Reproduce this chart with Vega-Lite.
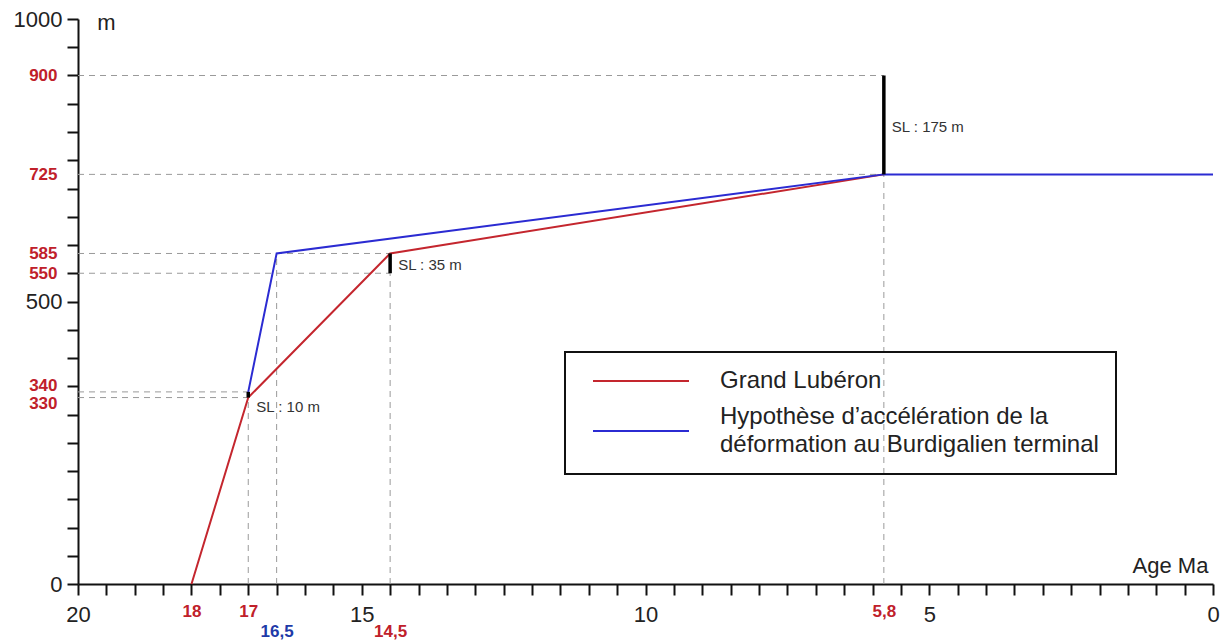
{
  "$schema": "https://vega.github.io/schema/vega-lite/v6.json",
  "width": 1135,
  "height": 565,
  "autosize": {"type": "none"},
  "padding": {"left": 78, "top": 19, "right": 16, "bottom": 59},
  "background": "white",
  "config": {
    "view": {"stroke": null},
    "font": "Liberation Sans"
  },
  "datasets": {
    "dashes": [
      {"x": 20, "x2": 5.8, "y": 900, "y2": 900},
      {"x": 20, "x2": 5.8, "y": 725, "y2": 725},
      {"x": 20, "x2": 14.5, "y": 585, "y2": 585},
      {"x": 20, "x2": 14.5, "y": 550, "y2": 550},
      {"x": 20, "x2": 17, "y": 340, "y2": 340},
      {"x": 20, "x2": 17, "y": 330, "y2": 330},
      {"x": 17, "x2": 17, "y": 0, "y2": 330},
      {"x": 16.5, "x2": 16.5, "y": 0, "y2": 585},
      {"x": 14.5, "x2": 14.5, "y": 0, "y2": 550},
      {"x": 5.8, "x2": 5.8, "y": 0, "y2": 725}
    ],
    "bars": [
      {"x": 17, "y": 330, "y2": 340},
      {"x": 14.5, "y": 550, "y2": 585},
      {"x": 5.8, "y": 725, "y2": 900}
    ],
    "lines": [
      {"series": "Grand Lubéron", "x": 18, "y": 0, "o": 1},
      {"series": "Grand Lubéron", "x": 17, "y": 330, "o": 2},
      {"series": "Grand Lubéron", "x": 14.5, "y": 585, "o": 3},
      {"series": "Grand Lubéron", "x": 5.8, "y": 725, "o": 4},
      {"series": "Hypothèse d’accélération de la déformation au Burdigalien terminal", "x": 17, "y": 340, "o": 1},
      {"series": "Hypothèse d’accélération de la déformation au Burdigalien terminal", "x": 16.5, "y": 585, "o": 2},
      {"series": "Hypothèse d’accélération de la déformation au Burdigalien terminal", "x": 5.8, "y": 725, "o": 3},
      {"series": "Hypothèse d’accélération de la déformation au Burdigalien terminal", "x": 0, "y": 725, "o": 4}
    ],
    "notes": [
      {"x": 17, "y": 313, "label": "SL : 10 m"},
      {"x": 14.5, "y": 565, "label": "SL : 35 m"},
      {"x": 5.8, "y": 809, "label": "SL : 175 m"}
    ]
  },
  "encoding": {
    "x": {
      "field": "x",
      "type": "quantitative",
      "scale": {"domain": [0, 20], "reverse": true, "nice": false, "zero": false},
      "axis": {
        "title": "Age Ma",
        "titleFont": "Liberation Sans",
        "titleFontSize": 22,
        "titleFontWeight": "normal",
        "titleColor": "#222",
        "titleX": 1092,
        "titleY": -19,
        "titleAlign": "center",
        "titleBaseline": "middle",
        "format": "~g",
        "values": [0,0.5,1,1.5,2,2.5,3,3.5,4,4.5,5,5.5,5.8,6,6.5,7,7.5,8,8.5,9,9.5,10,10.5,11,11.5,12,12.5,13,13.5,14,14.5,15,15.5,16,16.5,17,17.5,18,18.5,19,19.5,20],
        "grid": false,
        "domainColor": "#111",
        "domainWidth": 2,
        "tickColor": "#111",
        "tickWidth": 2,
        "tickSize": 11,
        "tickOpacity": {"condition": {"test": "datum.value == 5.8", "value": 0}, "value": 1},
        "labelOverlap": false,
        "labelBound": false,
        "labelFlush": false,
        "labelFont": "Liberation Sans",
        "labelExpr": "indexof([20,15,10,5,0,18,17,16.5,14.5,5.8], datum.value) >= 0 ? replace(datum.label, '.', ',') : ''",
        "labelFontSize": {"condition": {"test": "indexof([20,15,10,5,0], datum.value) >= 0", "value": 22}, "value": 17},
        "labelFontWeight": {"condition": {"test": "indexof([20,15,10,5,0], datum.value) >= 0", "value": "normal"}, "value": "bold"},
        "labelColor": {"condition": [
          {"test": "indexof([20,15,10,5,0], datum.value) >= 0", "value": "#222"},
          {"test": "datum.value == 16.5", "value": "#1e3aa8"}
        ], "value": "#c0202a"},
        "labelPadding": {"condition": [
          {"test": "datum.value == 16.5 || datum.value == 14.5", "value": 28},
          {"test": "indexof([20,15,10,5,0], datum.value) >= 0", "value": 9}
        ], "value": 8}
      }
    },
    "y": {
      "field": "y",
      "type": "quantitative",
      "scale": {"domain": [0, 1000], "nice": false, "zero": false},
      "axis": {
        "title": "m",
        "titleFont": "Liberation Sans",
        "titleFontSize": 22,
        "titleFontWeight": "normal",
        "titleColor": "#222",
        "titleAngle": 0,
        "titleX": 28,
        "titleY": 3,
        "titleAlign": "center",
        "titleBaseline": "middle",
        "format": "d",
        "values": [0,50,100,150,200,250,300,330,340,350,400,450,500,550,585,600,650,700,725,750,800,850,900,950,1000],
        "grid": false,
        "domainColor": "#111",
        "domainWidth": 2,
        "tickColor": "#111",
        "tickWidth": 2,
        "tickSize": 11,
        "tickOpacity": {"condition": {"test": "datum.value % 50 != 0", "value": 0}, "value": 1},
        "labelOverlap": false,
        "labelBound": false,
        "labelFlush": false,
        "labelFont": "Liberation Sans",
        "labelExpr": "indexof([0,500,1000,900,725,585,550,340,330], datum.value) >= 0 ? datum.label : ''",
        "labelFontSize": {"condition": {"test": "indexof([0,500,1000], datum.value) >= 0", "value": 22}, "value": 17},
        "labelFontWeight": {"condition": {"test": "indexof([0,500,1000], datum.value) >= 0", "value": "normal"}, "value": "bold"},
        "labelColor": {"condition": {"test": "indexof([0,500,1000], datum.value) >= 0", "value": "#222"}, "value": "#c0202a"},
        "labelPadding": {"condition": {"test": "indexof([0,500,1000], datum.value) >= 0", "value": 5}, "value": 10},
        "labelOffset": {"condition": [
          {"test": "datum.value == 340", "value": -6},
          {"test": "datum.value == 330", "value": 6}
        ], "value": 0}
      }
    }
  },
  "layer": [
    {
      "data": {"name": "dashes"},
      "mark": {"type": "rule", "color": "#9a9a9a", "strokeWidth": 1, "strokeDash": [6, 5]},
      "encoding": {
        "x2": {"field": "x2"},
        "y2": {"field": "y2"}
      }
    },
    {
      "data": {"name": "lines"},
      "mark": {"type": "line", "strokeWidth": 2},
      "encoding": {
        "order": {"field": "o"},
        "color": {
          "field": "series",
          "type": "nominal",
          "scale": {
            "domain": ["Grand Lubéron", "Hypothèse d’accélération de la déformation au Burdigalien terminal"],
            "range": ["#c4262e", "#2b2bd2"]
          },
          "legend": {
            "title": null,
            "orient": "none",
            "legendX": 487,
            "legendY": 333,
            "symbolType": "M-0.1,0H9.5",
            "symbolSize": 400,
            "symbolStrokeWidth": 2,
            "strokeColor": "#111",
            "padding": 17,
            "labelFont": "Liberation Sans",
            "labelFontSize": 24,
            "labelColor": "#222",
            "labelLimit": 700,
            "labelOffset": 114,
            "rowPadding": 12,
            "labelExpr": "split(replace(datum.label, 'de la ', 'de la|'), '|')",
            "encode": {
              "legend": {"update": {"strokeWidth": {"value": 2}}},
              "labels": {"update": {
                "lineHeight": {"value": 28},
                "dy": {"signal": "indexof(datum.value, 'Hypoth') == 0 ? -14 : 0"}
              }}
            }
          }
        }
      }
    },
    {
      "data": {"name": "bars"},
      "mark": {"type": "rule", "color": "#000", "strokeWidth": 3.5},
      "encoding": {
        "y2": {"field": "y2"}
      }
    },
    {
      "data": {"name": "notes"},
      "mark": {"type": "text", "align": "left", "baseline": "middle", "dx": 8, "font": "Liberation Sans", "fontSize": 15, "color": "#333"},
      "encoding": {
        "text": {"field": "label"}
      }
    }
  ]
}
